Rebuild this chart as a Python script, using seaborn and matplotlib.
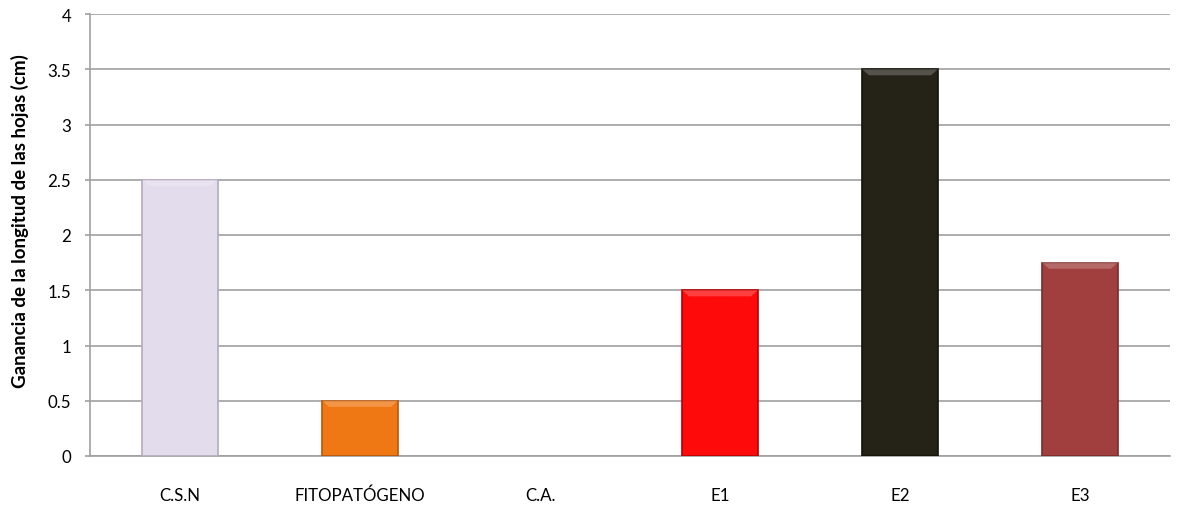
import matplotlib
matplotlib.use("Agg")
import matplotlib.pyplot as plt
import matplotlib.colors as mcolors
from matplotlib.patches import Polygon
import seaborn as sns
import pandas as pd
import numpy as np

categories = ["C.S.N", "FITOPATÓGENO", "C.A.", "E1", "E2", "E3"]
values = [2.5, 0.5, 0.0, 1.5, 3.5, 1.75]
colors = ["#E3DCEC", "#F07814", "#C0504D", "#FF0A0A", "#252218", "#A13F3E"]
edge_colors = ["#B3AABF", "#B8560C", "#8A3634", "#B80000", "#151208", "#7A2C2A"]
yticks = [0, 0.5, 1, 1.5, 2, 2.5, 3, 3.5, 4]
ytick_labels = ["0", "0.5", "1", "1.5", "2", "2.5", "3", "3.5", "4"]
ylabel = "Ganancia de la longitud de las hojas (cm)"

sns.set_theme(style="white")
plt.rcParams["font.family"] = ["Lato", "DejaVu Sans"]

df = pd.DataFrame({"cat": categories, "val": values})

fig = plt.figure(figsize=(11.9, 5.06), dpi=100)
ax = fig.add_axes([90 / 1190, 49 / 506, 1080 / 1190, 442 / 506])

sns.barplot(data=df, x="cat", y="val", hue="cat", palette=colors, order=categories,
            hue_order=categories, width=0.42, legend=False, ax=ax, zorder=3,
            saturation=1)

# bevel-like highlight at the top of each bar, derived from the drawn patches
bevel = 0.055
for patch, ec, fc in zip(ax.patches, edge_colors, colors):
    h = patch.get_height()
    if h <= 0:
        patch.set_linewidth(0)
        patch.set_visible(False)
        continue
    patch.set_edgecolor(ec)
    patch.set_linewidth(1.2)
    x0 = patch.get_x()
    w = patch.get_width()
    inset = w * 0.09
    light = np.array(mcolors.to_rgb(fc)) * 0.6 + 0.4
    poly = Polygon([[x0, h], [x0 + w, h], [x0 + w - inset, h - bevel], [x0 + inset, h - bevel]],
                   closed=True, facecolor=light, edgecolor="none", alpha=0.55, zorder=4)
    ax.add_patch(poly)

ax.set_ylim(0, 4)
ax.set_xlim(-0.5, len(categories) - 0.5)
ax.set_yticks(yticks)
ax.set_yticklabels(ytick_labels)
ax.yaxis.grid(True, color="#A0A0A0", linewidth=1.2, zorder=0)
ax.xaxis.grid(False)
ax.set_axisbelow(True)

for side in ["top", "right"]:
    ax.spines[side].set_visible(False)
for side in ["left", "bottom"]:
    ax.spines[side].set_color("#A0A0A0")
    ax.spines[side].set_linewidth(1.2)

ax.tick_params(axis="y", which="both", left=True, length=3.6, width=1.2, color="#A0A0A0",
               labelsize=12.2, pad=10, labelcolor="black")
ax.tick_params(axis="x", bottom=False, labelsize=12.2, pad=16, labelcolor="black")
ax.set_xlabel("")
ax.set_ylabel(ylabel, fontsize=13.5, fontweight="bold", color="black")
ax.yaxis.set_label_coords(-0.0565, 0.534)

fig.savefig("out.png", dpi=100)
